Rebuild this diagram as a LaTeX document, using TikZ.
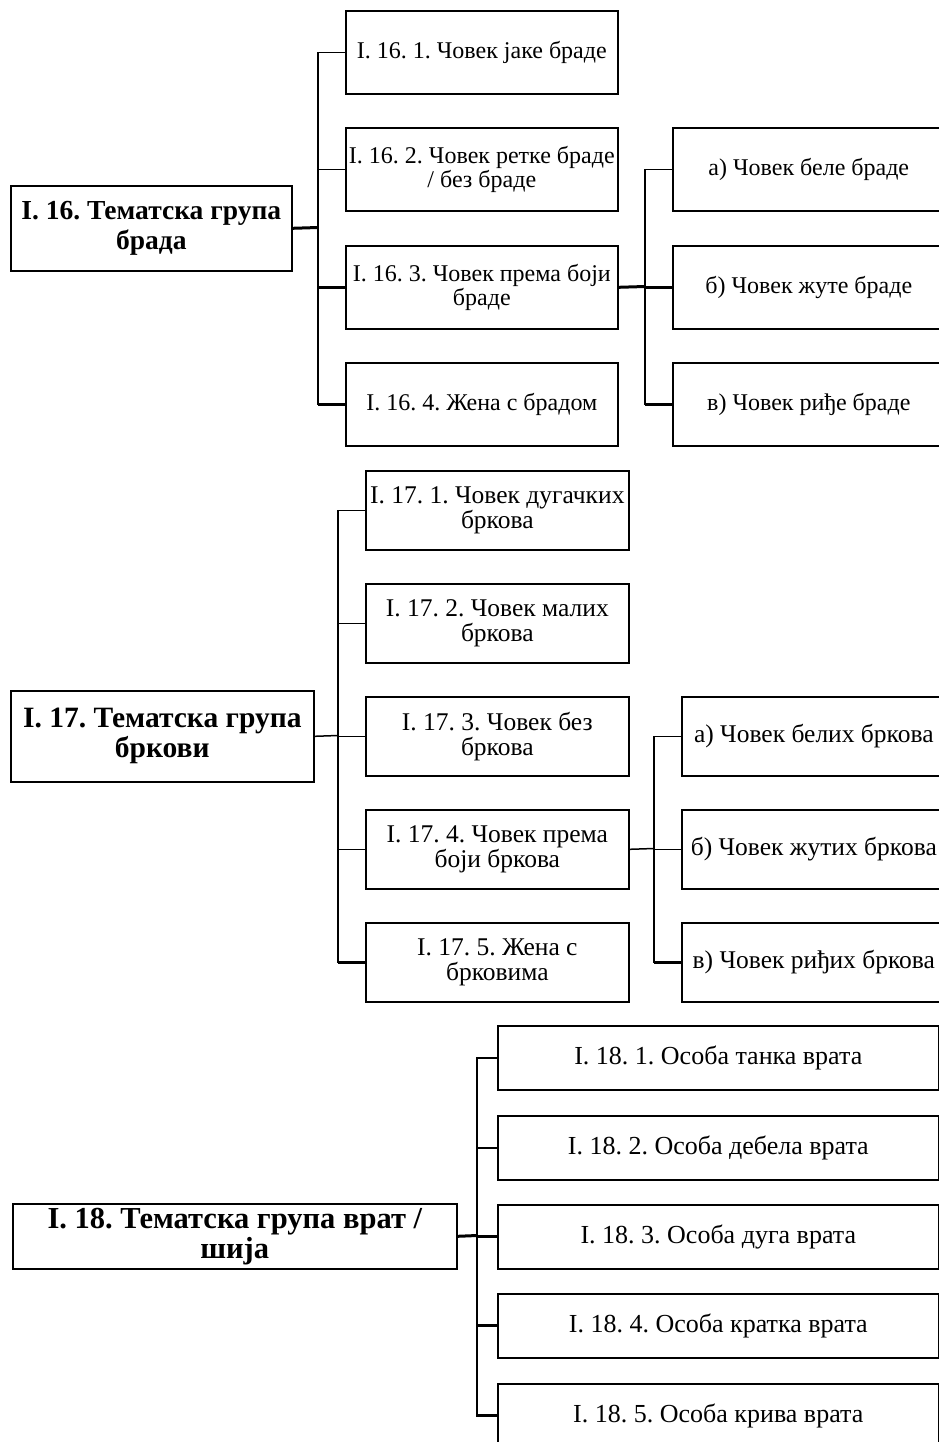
\documentclass[tikz,border=0pt]{standalone}
\usepackage{fontspec}
\setmainfont{Liberation Serif}
\newcommand{\fa}{\frenchspacing\fontsize{24}{24}\selectfont}
\newcommand{\fb}{\frenchspacing\fontsize{25.5}{25}\selectfont}
\newcommand{\fc}{\frenchspacing\fontsize{26}{26}\selectfont}
\newcommand{\ra}{\frenchspacing\fontsize{27.5}{30}\selectfont\bfseries}
\newcommand{\rb}{\frenchspacing\fontsize{29.5}{30}\selectfont\bfseries}
\newcommand{\rc}{\frenchspacing\fontsize{30.5}{30}\selectfont\bfseries}
\tikzset{
  box/.style={draw, line width=1.6pt, rectangle, anchor=north west, inner sep=0pt, align=center},
  conn/.style={line width=1.5pt},
  thickconn/.style={line width=3pt},
}
\begin{document}
\begin{tikzpicture}[x=1pt,y=-1pt]
\useasboundingbox (0,0) rectangle (939,1442);
\clip (0,0) rectangle (939,1442);
% ---------- Section I.16
\node[box, font=\ra, minimum width=281pt, minimum height=85pt] (r16) at (10,185) {I. 16. Тематска група\\брада};
\node[box, font=\fa, minimum width=272pt, minimum height=83pt] (c161) at (345,10) {I. 16. 1. Човек јаке браде};
\node[box, font=\fa, minimum width=272pt, minimum height=83pt] (c162) at (345,127) {I. 16. 2. Човек ретке браде\\/ без браде};
\node[box, font=\fa, minimum width=272pt, minimum height=83pt] (c163) at (345,245) {I. 16. 3. Човек према боји\\браде};
\node[box, font=\fa, minimum width=272pt, minimum height=83pt] (c164) at (345,362) {I. 16. 4. Жена с брадом};
\node[box, font=\fa, minimum width=272pt, minimum height=83pt] (g161) at (672,127) {а) Човек беле браде};
\node[box, font=\fa, minimum width=272pt, minimum height=83pt] (g162) at (672,245) {б) Човек жуте браде};
\node[box, font=\fa, minimum width=272pt, minimum height=83pt] (g163) at (672,362) {в) Човек риђе браде};
\coordinate (k16) at (318,227.5);
\coordinate (k163) at (645,286.5);
\draw[conn] (c161.west) -- ++(-27,0) |- (c164.west);
\draw[conn] (c162.west) -- ++(-27,0);
\draw[thickconn] (c163.west) -- ++(-27,0);
\draw[thickconn] (c164.west) -- ++(-27,0);
\draw[thickconn] (r16.east) -- (k16);
\draw[conn] (g161.west) -- ++(-27,0) |- (g163.west);
\draw[thickconn] (g162.west) -- ++(-27,0);
\draw[thickconn] (g163.west) -- ++(-27,0);
\draw[thickconn] (c163.east) -- (k163);
% ---------- Section I.17
\node[box, font=\rb, minimum width=303pt, minimum height=91pt] (r17) at (10,690) {I. 17. Тематска група\\бркови};
\node[box, font=\fb, minimum width=263pt, minimum height=79pt] (c171) at (365,470) {I. 17. 1. Човек дугачких\\бркова};
\node[box, font=\fb, minimum width=263pt, minimum height=79pt] (c172) at (365,583) {I. 17. 2. Човек малих\\бркова};
\node[box, font=\fb, minimum width=263pt, minimum height=79pt] (c173) at (365,696) {I. 17. 3. Човек без\\бркова};
\node[box, font=\fb, minimum width=263pt, minimum height=79pt] (c174) at (365,809) {I. 17. 4. Човек према\\боји бркова};
\node[box, font=\fb, minimum width=263pt, minimum height=79pt] (c175) at (365,922) {I. 17. 5. Жена с\\брковима};
\node[box, font=\fb, minimum width=264pt, minimum height=79pt] (g171) at (681,696) {а) Човек белих бркова};
\node[box, font=\fb, minimum width=264pt, minimum height=79pt] (g172) at (681,809) {б) Човек жутих бркова};
\node[box, font=\fb, minimum width=264pt, minimum height=79pt] (g173) at (681,922) {в) Човек риђих бркова};
\coordinate (k17) at (338,735.5);
\coordinate (k174) at (654,848.5);
\draw[conn] (c171.west) -- ++(-27,0) |- (c175.west);
\draw[conn] (c172.west) -- ++(-27,0);
\draw[conn] (c173.west) -- ++(-27,0);
\draw[conn] (c174.west) -- ++(-27,0);
\draw[thickconn] (c175.west) -- ++(-27,0);
\draw[conn] (r17.east) -- (k17);
\draw[conn] (g171.west) -- ++(-27,0) |- (g173.west);
\draw[conn] (g172.west) -- ++(-27,0);
\draw[thickconn] (g173.west) -- ++(-27,0);
\draw[conn] (c174.east) -- (k174);
% ---------- Section I.18
\node[box, font=\rc, minimum width=444pt, minimum height=65pt] (r18) at (12,1203) {I. 18. Тематска група врат /\\шија};
\node[box, font=\fc, minimum width=441pt, minimum height=64pt] (c181) at (497,1025) {I. 18. 1. Особа танка врата};
\node[box, font=\fc, minimum width=441pt, minimum height=64pt] (c182) at (497,1115) {I. 18. 2. Особа дебела врата};
\node[box, font=\fc, minimum width=441pt, minimum height=64pt] (c183) at (497,1204) {I. 18. 3. Особа дуга врата};
\node[box, font=\fc, minimum width=441pt, minimum height=64pt] (c184) at (497,1293) {I. 18. 4. Особа кратка врата};
\node[box, font=\fc, minimum width=441pt, minimum height=64pt] (c185) at (497,1383) {I. 18. 5. Особа крива врата};
\coordinate (k18) at (477,1235.5);
\draw[conn] (c181.west) -- ++(-20,0) |- (c185.west);
\draw[conn] (c182.west) -- ++(-20,0);
\draw[thickconn] (c183.west) -- ++(-20,0);
\draw[thickconn] (c184.west) -- ++(-20,0);
\draw[thickconn] (c185.west) -- ++(-20,0);
\draw[thickconn] (r18.east) -- (k18);
\end{tikzpicture}
\end{document}
